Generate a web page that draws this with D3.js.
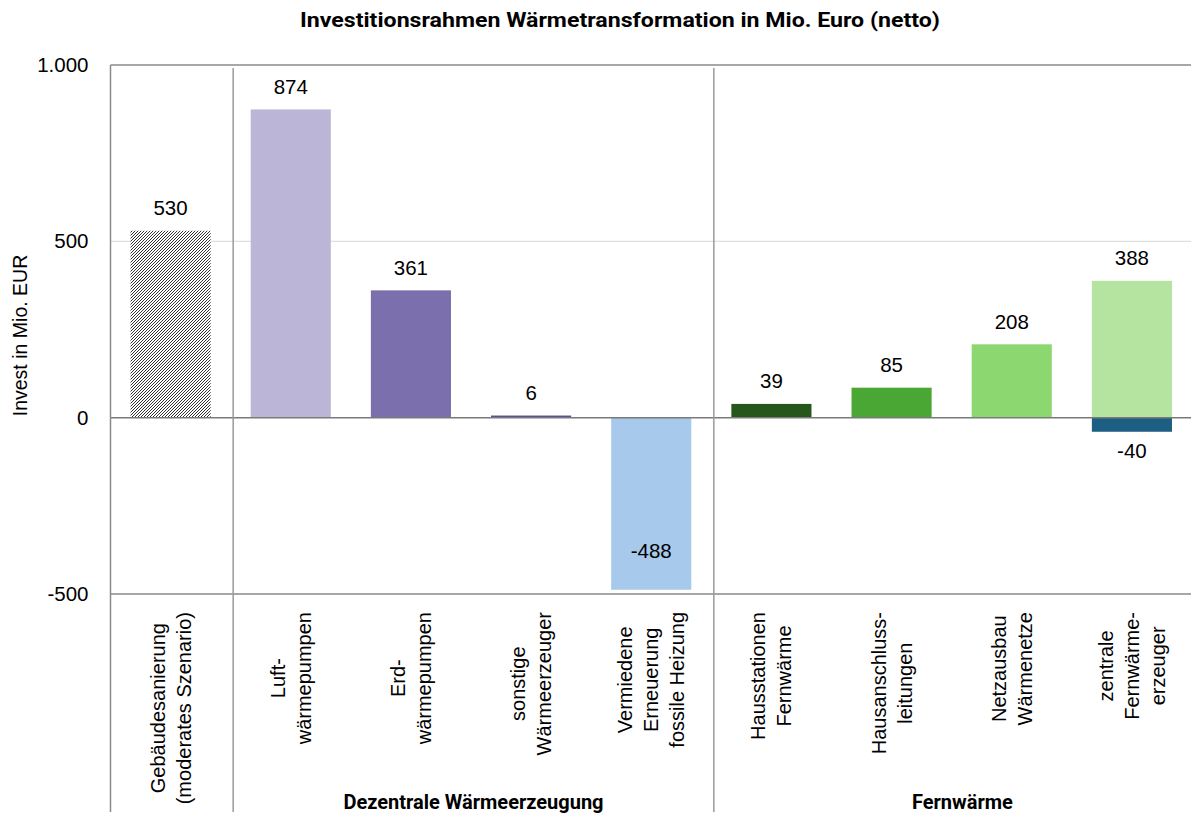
<!DOCTYPE html>
<html>
<head>
<meta charset="utf-8">
<script src="https://cdn.jsdelivr.net/npm/d3@7"></script>
<style>
  html, body { margin: 0; padding: 0; background: #ffffff; }
  svg { display: block; }
  text { font-family: "Liberation Sans", Arial, sans-serif; fill: #000; }
  .bold { font-family: "Roboto", "Liberation Sans", sans-serif; font-weight: bold; }
</style>
</head>
<body>
<svg id="chart" width="1191" height="814"></svg>
<script>
// ---- data ----
const categories = [
  "Gebäudesanierung (moderates Szenario)",
  "Luft-wärmepumpen",
  "Erd-wärmepumpen",
  "sonstige Wärmeerzeuger",
  "Vermiedene Erneuerung fossile Heizung",
  "Hausstationen Fernwärme",
  "Hausanschluss-leitungen",
  "Netzausbau Wärmenetze",
  "zentrale Fernwärme-erzeuger"
];
// line breaks used in the rotated category labels
const categoryLines = [
  ["Gebäudesanierung", "(moderates Szenario)"],
  ["Luft-", "wärmepumpen"],
  ["Erd-", "wärmepumpen"],
  ["sonstige", "Wärmeerzeuger"],
  ["Vermiedene", "Erneuerung", "fossile Heizung"],
  ["Hausstationen", "Fernwärme"],
  ["Hausanschluss-", "leitungen"],
  ["Netzausbau", "Wärmenetze"],
  ["zentrale", "Fernwärme-", "erzeuger"]
];
const positiveValues = [530, 874, 361, 6, 0, 39, 85, 208, 388];
const negativeValues = [0, 0, 0, 0, -488, 0, 0, 0, -40];
const yTicks = [-500, 0, 500, 1000];
const groupNames = ["Dezentrale Wärmeerzeugung", "Fernwärme"];
const groupFirst = [1, 5];   // index of the first category in each group
const groupLast = [4, 8];

// ---- styles ----
const positiveColors = ["url(#hatch)", "#bbb5d8", "#7b6fad", "#5b4f96", "#a7c9eb",
                        "#25561b", "#4ba733", "#8cd770", "#b5e4a1"];
const negativeColors = ["#000", "#000", "#000", "#000", "#a7c9eb",
                        "#000", "#000", "#000", "#1d5e83"];

const W = 1191, H = 814;
const plot = { left: 110.5, right: 1192, top: 65, bottom: 594 };

const svg = d3.select("#chart");

// hatch pattern for the building renovation bar
const defs = svg.append("defs");
const pat = defs.append("pattern")
  .attr("id", "hatch").attr("patternUnits", "userSpaceOnUse")
  .attr("width", 3).attr("height", 3);
pat.append("rect").attr("width", 3).attr("height", 3).attr("fill", "#ffffff");
pat.append("path")
  .attr("d", "M-1,1 L1,-1 M0,3 L3,0 M2,4 L4,2")
  .attr("stroke", "#333333").attr("stroke-width", 1.0);

const x = d3.scaleBand()
  .domain(categories)
  .range([plot.left, plot.right])
  .paddingInner(1 / 3)
  .paddingOuter(1 / 6);

const y = d3.scaleLinear()
  .domain([-500, 1000])
  .range([plot.bottom, plot.top]);

const deLocale = d3.formatLocale({ decimal: ",", thousands: ".", grouping: [3], currency: ["", " €"], minus: "-" });
const fmt = deLocale.format(",d");

// gridline at 500
svg.append("g").selectAll("line")
  .data(yTicks.filter(v => v !== 0 && v !== -500 && v !== 1000))
  .join("line")
  .attr("x1", plot.left).attr("x2", W)
  .attr("y1", d => y(d)).attr("y2", d => y(d))
  .attr("stroke", "#e0e0e0").attr("stroke-width", 1.2);

// y axis labels
const yAxis = d3.axisLeft(y).tickValues(yTicks).tickFormat(fmt).tickSize(0).tickPadding(22);
const yg = svg.append("g").attr("transform", `translate(${plot.left},0)`).call(yAxis);
yg.select(".domain").remove();
yg.selectAll("text")
  .attr("font-family", "Liberation Sans, Arial, sans-serif")
  .attr("font-size", 20.5).attr("fill", "#000");

// y axis title
svg.append("text")
  .attr("transform", `translate(20,${(plot.top + plot.bottom) / 2 + 6}) rotate(-90)`)
  .attr("text-anchor", "middle")
  .attr("dominant-baseline", "central")
  .attr("font-size", 19.5)
  .text("Invest in Mio. EUR");

// bars
const step = x.step();
svg.append("g").selectAll("rect.pos")
  .data(categories)
  .join("rect")
  .attr("x", d => x(d))
  .attr("width", x.bandwidth())
  .attr("y", (d, i) => y(positiveValues[i]))
  .attr("height", (d, i) => y(0) - y(positiveValues[i]))
  .attr("fill", (d, i) => positiveColors[i]);

svg.append("g").selectAll("rect.neg")
  .data(categories)
  .join("rect")
  .attr("x", d => x(d))
  .attr("width", x.bandwidth())
  .attr("y", y(0))
  .attr("height", (d, i) => y(negativeValues[i]) - y(0))
  .attr("fill", (d, i) => negativeColors[i]);

// frame lines
const frame = svg.append("g").attr("stroke", "#8a8a8a").attr("stroke-width", 1.5);
frame.append("line").attr("x1", plot.left).attr("x2", W).attr("y1", plot.top).attr("y2", plot.top);
frame.append("line").attr("x1", plot.left).attr("x2", W).attr("y1", plot.bottom).attr("y2", plot.bottom);
frame.append("line").attr("x1", plot.left).attr("x2", W).attr("y1", y(0)).attr("y2", y(0)).attr("stroke", "#7a7a7a");
frame.append("line").attr("x1", plot.left).attr("x2", plot.left).attr("y1", plot.top).attr("y2", H - 2);

// group separators
const sepX = groupFirst.map(i => x(categories[i]) - step * x.paddingInner() / 2 + 2.5);
svg.append("g").selectAll("line")
  .data(sepX)
  .join("line")
  .attr("x1", d => d).attr("x2", d => d)
  .attr("y1", plot.top + 3).attr("y2", H - 2)
  .attr("stroke", "#9a9a9a").attr("stroke-width", 1.5);

// value labels
const labels = svg.append("g").attr("font-size", 20.5).attr("text-anchor", "middle");
categories.forEach((c, i) => {
  const cx = x(c) + x.bandwidth() / 2;
  if (positiveValues[i] > 0) {
    labels.append("text")
      .attr("x", cx).attr("y", y(positiveValues[i]) - 23)
      .attr("dominant-baseline", "central")
      .text(fmt(positiveValues[i]));
  }
  if (negativeValues[i] < 0) {
    const bottom = y(negativeValues[i]);
    const ly = bottom + 40 > plot.bottom ? bottom - 39 : bottom + 19;
    labels.append("text")
      .attr("x", cx).attr("y", ly)
      .attr("dominant-baseline", "central")
      .text(fmt(negativeValues[i]));
  }
});

// rotated category labels (multi-line, top-aligned under the axis)
const lineH = 26;
const catG = svg.append("g").attr("font-size", 20);
categories.forEach((c, i) => {
  const lines = categoryLines[i];
  const g = catG.append("g")
    .attr("transform", `translate(${x(c) + x.bandwidth() / 2},${plot.bottom + 18}) rotate(-90)`);
  const texts = lines.map((t, k) =>
    g.append("text")
      .attr("y", (k - (lines.length - 1) / 2) * lineH)
      .attr("dominant-baseline", "central")
      .attr("text-anchor", "middle")
      .text(t));
  const maxLen = d3.max(texts, t => t.node().getComputedTextLength());
  texts.forEach(t => t.attr("x", -maxLen / 2));
});

// group labels
const groupCenters = groupNames.map((n, gi) => {
  const left = sepX[gi];
  const right = gi + 1 < sepX.length ? sepX[gi + 1] : plot.right + 19;
  return (left + right) / 2;
});
svg.append("g").selectAll("text")
  .data(groupNames)
  .join("text")
  .attr("class", "bold")
  .attr("x", (d, i) => groupCenters[i])
  .attr("y", 802)
  .attr("text-anchor", "middle")
  .attr("dominant-baseline", "central")
  .attr("font-size", 20)
  .text(d => d);

// title
svg.append("text")
  .attr("class", "bold")
  .attr("x", 620).attr("y", 20)
  .attr("text-anchor", "middle")
  .attr("dominant-baseline", "central")
  .attr("font-size", 20)
  .attr("textLength", 640)
  .attr("lengthAdjust", "spacingAndGlyphs")
  .text("Investitionsrahmen Wärmetransformation in Mio. Euro (netto)");
</script>
</body>
</html>
